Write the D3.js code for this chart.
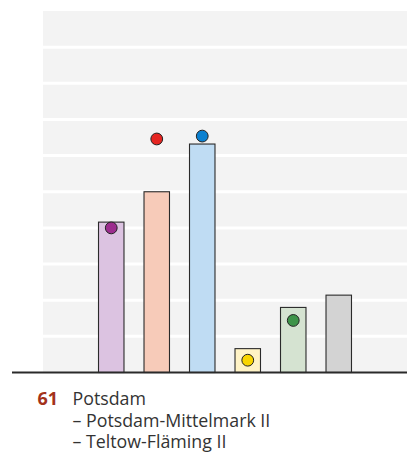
<!DOCTYPE html>
<html>
<head>
<meta charset="utf-8">
<script src="https://cdn.jsdelivr.net/npm/d3@7"></script>
<style>
  body { margin: 0; background: #fff; }
  svg { display: block; font-family: "Open Sans", "Noto Sans", sans-serif; }
</style>
</head>
<body>
<svg width="408" height="454"></svg>
<script>
// slots: first and last are empty
const slots = ["s0", "LINKE", "SPD", "AfD", "FDP", "GRUENE", "Sonstige", "s7"];
const parties = ["LINKE", "SPD", "AfD", "FDP", "GRUENE", "Sonstige"];
const current = [20.8, 25.0, 31.6, 3.3, 9.0, 10.7];
const previous = [20.0, 32.3, 32.7, 1.7, 7.2, null];
const barColors = ["#dcc3e1", "#f7cbb9", "#bfdcf3", "#fff3c6", "#d5e3d1", "#d3d3d3"];
const dotColors = ["#9c2d8e", "#e52521", "#0a80d0", "#f9d500", "#3e9449", null];
const yTicks = [0, 5, 10, 15, 20, 25, 30, 35, 40, 45, 50];
const titleNumber = "61";
const titleLines = ["Potsdam", "– Potsdam-Mittelmark II", "– Teltow-Fläming II"];

const svg = d3.select("svg");
const plotLeft = 43, plotRight = 407, plotTop = 11, plotBottom = 372.5;

const x = d3.scaleBand().domain(slots).range([plotLeft, plotRight])
  .paddingInner(0.44).paddingOuter(0.22);
const y = d3.scaleLinear().domain([0, 50]).range([plotBottom, plotTop]);

// background + white gridlines
svg.append("rect")
  .attr("x", plotLeft).attr("y", plotTop)
  .attr("width", plotRight - plotLeft).attr("height", plotBottom - plotTop)
  .attr("fill", "#f3f3f3");

svg.selectAll("line.grid")
  .data(yTicks.slice(1, -1))
  .join("line")
  .attr("class", "grid")
  .attr("x1", plotLeft).attr("x2", plotRight)
  .attr("y1", (d) => y(d)).attr("y2", (d) => y(d))
  .attr("stroke", "#fff")
  .attr("stroke-width", 3);

const data = parties.map((p, i) => ({
  party: p, value: current[i], prev: previous[i],
  fill: barColors[i], dot: dotColors[i]
}));

svg.selectAll("rect.bar")
  .data(data)
  .join("rect")
  .attr("class", "bar")
  .attr("x", (d) => x(d.party))
  .attr("y", (d) => y(d.value))
  .attr("width", x.bandwidth())
  .attr("height", (d) => plotBottom - y(d.value))
  .attr("fill", (d) => d.fill)
  .attr("stroke", "#2a2a2a")
  .attr("stroke-width", 1.1);

// baseline
svg.append("line")
  .attr("x1", 12).attr("x2", plotRight)
  .attr("y1", plotBottom).attr("y2", plotBottom)
  .attr("stroke", "#2a2a2a")
  .attr("stroke-width", 2);

svg.selectAll("circle.prev")
  .data(data.filter((d) => d.prev != null))
  .join("circle")
  .attr("class", "prev")
  .attr("cx", (d) => x(d.party) + x.bandwidth() / 2)
  .attr("cy", (d) => y(d.prev))
  .attr("r", 5.9)
  .attr("fill", (d) => d.dot)
  .attr("stroke", "#222")
  .attr("stroke-width", 1);

// title
svg.append("text")
  .attr("x", 37.5).attr("y", 405)
  .attr("font-size", 18).attr("font-weight", 700)
  .attr("fill", "#a3321b")
  .text(titleNumber);

svg.selectAll("text.line")
  .data(titleLines)
  .join("text")
  .attr("class", "line")
  .attr("x", 72.5)
  .attr("y", (d, i) => 405 + i * 21.7)
  .attr("font-size", 17.8)
  .attr("textLength", null)
  .attr("fill", "#333")
  .text((d) => d);
</script>
</body>
</html>
